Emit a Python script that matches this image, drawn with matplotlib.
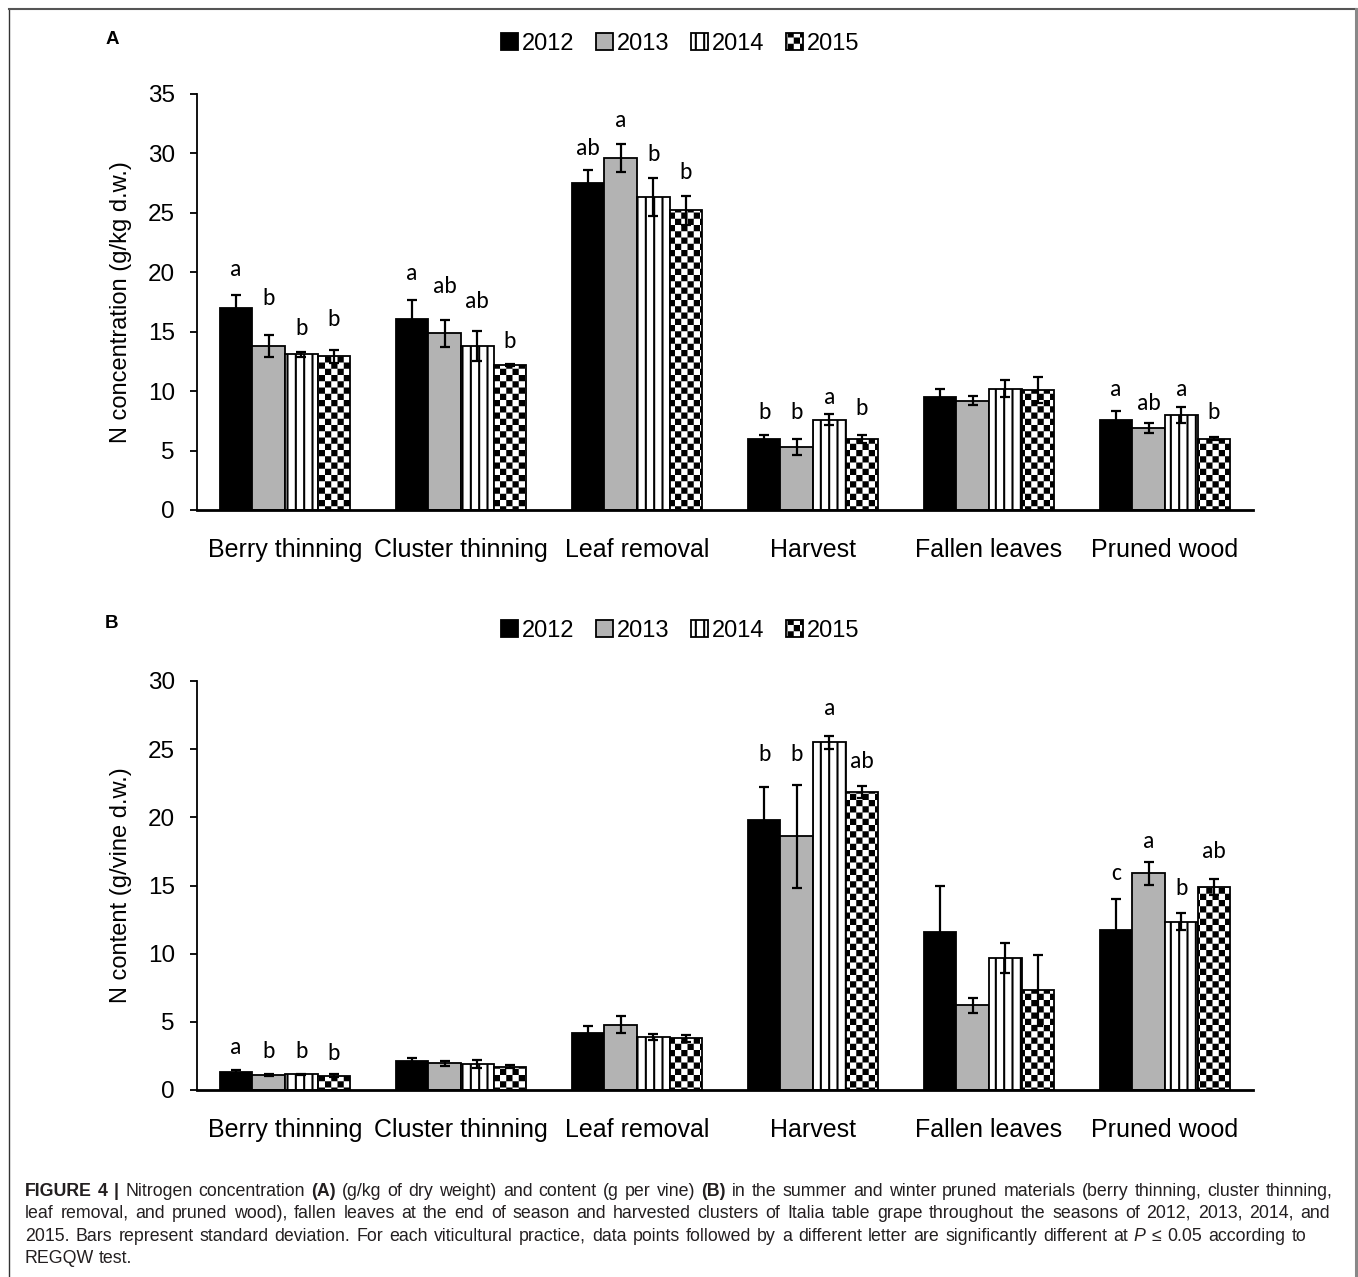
import warnings
warnings.filterwarnings("ignore")
import numpy as np
import matplotlib
matplotlib.use("Agg")
import matplotlib.pyplot as plt
import matplotlib.hatch as mhatch
from matplotlib.path import Path
from matplotlib.lines import Line2D
from matplotlib import font_manager

# ---------------- data ----------------
categories = ["Berry thinning", "Cluster thinning", "Leaf removal",
              "Harvest", "Fallen leaves", "Pruned wood"]
years = ["2012", "2013", "2014", "2015"]

# Panel A: N concentration (g/kg d.w.)
concA_2012 = [17.0, 16.1, 27.5, 6.0, 9.5, 7.6]
concA_2013 = [13.8, 14.85, 29.6, 5.3, 9.2, 6.9]
concA_2014 = [13.1, 13.8, 26.3, 7.6, 10.2, 8.0]
concA_2015 = [12.95, 12.2, 25.2, 6.0, 10.1, 6.0]
errA_2012 = [1.05, 1.6, 1.1, 0.3, 0.7, 0.7]
errA_2013 = [0.9, 1.1, 1.2, 0.7, 0.4, 0.4]
errA_2014 = [0.2, 1.3, 1.6, 0.45, 0.7, 0.7]
errA_2015 = [0.55, 0.05, 1.2, 0.35, 1.1, 0.15]
lettersA_2012 = ["a", "a", "ab", "b", "", "a"]
lettersA_2013 = ["b", "ab", "a", "b", "", "ab"]
lettersA_2014 = ["b", "ab", "b", "a", "", "a"]
lettersA_2015 = ["b", "b", "b", "b", "", "b"]
letterA_y_2012 = [20.2, 19.9, 30.4, 8.2, 0, 10.1]
letterA_y_2013 = [17.8, 18.8, 32.8, 8.2, 0, 9.0]
letterA_y_2014 = [15.3, 17.5, 29.9, 9.5, 0, 10.1]
letterA_y_2015 = [16.0, 14.2, 28.4, 8.5, 0, 8.2]

# Panel B: N content (g/vine d.w.)
contB_2012 = [1.3, 2.1, 4.2, 19.8, 11.6, 11.7]
contB_2013 = [1.1, 1.95, 4.8, 18.6, 6.2, 15.9]
contB_2014 = [1.15, 1.9, 3.9, 25.5, 9.7, 12.35]
contB_2015 = [1.05, 1.7, 3.8, 21.85, 7.3, 14.9]
errB_2012 = [0.15, 0.25, 0.5, 2.4, 3.4, 2.3]
errB_2013 = [0.1, 0.2, 0.6, 3.8, 0.55, 0.85]
errB_2014 = [0.05, 0.3, 0.2, 0.5, 1.1, 0.65]
errB_2015 = [0.1, 0.1, 0.25, 0.45, 2.6, 0.6]
lettersB_2012 = ["a", "", "", "b", "", "c"]
lettersB_2013 = ["b", "", "", "b", "", "a"]
lettersB_2014 = ["b", "", "", "a", "", "b"]
lettersB_2015 = ["b", "", "", "ab", "", "ab"]
letterB_y_2012 = [3.15, 0, 0, 24.6, 0, 15.9]
letterB_y_2013 = [2.86, 0, 0, 24.6, 0, 18.2]
letterB_y_2014 = [2.86, 0, 0, 28.0, 0, 14.8]
letterB_y_2015 = [2.7, 0, 0, 24.1, 0, 17.5]

ylabelA = "N concentration (g/kg d.w.)"
ylabelB = "N content (g/vine d.w.)"
yticksA = [0, 5, 10, 15, 20, 25, 30, 35]
yticksB = [0, 5, 10, 15, 20, 25, 30]

caption_lines = [
    "**FIGURE** **4** **|** Nitrogen concentration **(A)** (g/kg of dry weight) and content (g per vine) **(B)** in the summer and winter pruned materials (berry thinning, cluster thinning,",
    "leaf removal, and pruned wood), fallen leaves at the end of season and harvested clusters of Italia table grape throughout the seasons of 2012, 2013, 2014, and",
    "2015. Bars represent standard deviation. For each viticultural practice, data points followed by a different letter are significantly different at __P__ \u2264 0.05 according to",
    "REGQW test.",
]

# ---------------- style ----------------
W, H, DPI = 1358, 1277, 100
plt.rcParams["font.family"] = ["Liberation Sans", "DejaVu Sans"]
plt.rcParams["hatch.linewidth"] = 1.5
HATCH_LW = 1.5


def available(name):
    try:
        font_manager.findfont(font_manager.FontProperties(family=name),
                              fallback_to_default=False)
        return True
    except Exception:
        return False


cap_family = "Liberation Sans Narrow" if available("Liberation Sans Narrow") else "Liberation Sans"
letter_family = "Carlito" if available("Carlito") else "Lato"


# custom checkerboard hatch ('c')
class CheckerHatch(mhatch.HatchPatternBase):
    def __init__(self, hatch, density):
        self.n = 16 if "c" in hatch else 0
        self.num_vertices = (self.n * self.n // 2) * 5

    def set_vertices_and_codes(self, vertices, codes):
        n = self.n
        s = 1.0 / n
        inset = HATCH_LW / 144.0
        k = 0
        for i in range(n):
            for j in range(n):
                if (i + j) % 2 == 0:
                    x0, y0 = i * s + inset, j * s + inset
                    x1, y1 = (i + 1) * s - inset, (j + 1) * s - inset
                    vertices[k:k + 5] = [[x0, y0], [x1, y0], [x1, y1], [x0, y1], [x0, y0]]
                    codes[k:k + 5] = [Path.MOVETO, Path.LINETO, Path.LINETO,
                                      Path.LINETO, Path.CLOSEPOLY]
                    k += 5


mhatch._hatch_types.append(CheckerHatch)

fills = ["black", "#b3b3b3", "white", "white"]
hatches = [None, None, "||", "c"]

fig = plt.figure(figsize=(W / DPI, H / DPI), dpi=DPI)


def fx(px):
    return px / W


def fy(py):
    return 1 - py / H


def panel(rect, values, errors, letters, letter_y, ylabel, yticks, ymax, legend_y):
    ax = fig.add_axes(rect)
    x = np.arange(len(categories))
    w = 0.185
    handles = []
    for i in range(4):
        b = ax.bar(x + (i - 1.5) * w, values[i], w, color=fills[i],
                   edgecolor="black", linewidth=1.3, hatch=hatches[i],
                   zorder=2, label=years[i])
        handles.append(b)
        ax.errorbar(x + (i - 1.5) * w, values[i], yerr=errors[i], fmt="none",
                    ecolor="black", elinewidth=1.6, capsize=3.3, capthick=1.6,
                    zorder=3)
        for j in range(len(categories)):
            if letters[i][j]:
                ax.text(x[j] + (i - 1.5) * w, letter_y[i][j], letters[i][j],
                        ha="center", va="center", fontsize=17,
                        family=[letter_family, "DejaVu Sans"], zorder=4)
    ax.set_xlim(-0.5, len(categories) - 0.5)
    ax.set_ylim(0, ymax)
    ax.set_yticks(yticks)
    ax.set_xticks(x)
    ax.set_xticklabels(categories, fontsize=18)
    ax.tick_params(axis="x", length=0, pad=20.5)
    ax.tick_params(axis="y", length=5, width=1.3, pad=11, labelsize=17.5,
                   direction="out")
    for s in ["top", "right"]:
        ax.spines[s].set_visible(False)
    ax.spines["left"].set_linewidth(1.3)
    ax.spines["bottom"].set_linewidth(2.0)
    ax.spines["bottom"].set_zorder(5)
    ax.set_ylabel(ylabel, fontsize=17)
    ax.yaxis.set_label_coords(-0.062, 0.5)
    fig.legend(handles=handles, labels=years, loc="center",
               bbox_to_anchor=(fx(680), legend_y), ncol=4, frameon=False,
               fontsize=17, handlelength=0.75, handleheight=0.75,
               handletextpad=0.15, columnspacing=0.9, borderaxespad=0)
    return ax


rectA = [fx(197), fy(510), fx(1253) - fx(197), fy(94) - fy(510)]
rectB = [fx(197), fy(1090), fx(1253) - fx(197), fy(681) - fy(1090)]

panel(rectA, [concA_2012, concA_2013, concA_2014, concA_2015],
      [errA_2012, errA_2013, errA_2014, errA_2015],
      [lettersA_2012, lettersA_2013, lettersA_2014, lettersA_2015],
      [letterA_y_2012, letterA_y_2013, letterA_y_2014, letterA_y_2015],
      ylabelA, yticksA, 35, fy(44))
panel(rectB, [contB_2012, contB_2013, contB_2014, contB_2015],
      [errB_2012, errB_2013, errB_2014, errB_2015],
      [lettersB_2012, lettersB_2013, lettersB_2014, lettersB_2015],
      [letterB_y_2012, letterB_y_2013, letterB_y_2014, letterB_y_2015],
      ylabelB, yticksB, 30, fy(631))

fig.text(fx(112), fy(39), "A", fontsize=13.5, fontweight="bold", ha="center", va="center")
fig.text(fx(112), fy(623), "B", fontsize=13.5, fontweight="bold", ha="center", va="center")

# frame
fig.add_artist(Line2D([fx(8.5), fx(8.5)], [0, fy(9)], color="#333333", lw=1.0))
fig.add_artist(Line2D([fx(8.5), fx(1355.5)], [fy(9), fy(9)], color="#555555", lw=1.5))
fig.add_artist(Line2D([fx(1355.5), fx(1355.5)], [0, fy(9)], color="#888888", lw=2.2))

# caption with word-level layout
renderer = fig.canvas.get_renderer()
cap_size = 12.8
cap_color = "#231f20"
targets = [1333 - 25, 1330 - 25, 1306 - 25, None]
baselines = [1196, 1218, 1241, 1263]


def parse(line):
    out = []
    for wd in line.split(" "):
        if wd.startswith("**") and wd.endswith("**"):
            out.append((wd[2:-2], "bold", "normal"))
        elif wd.startswith("__") and wd.endswith("__"):
            out.append((wd[2:-2], "normal", "italic"))
        else:
            out.append((wd, "normal", "normal"))
    return out


def measure(s, weight, style):
    t = fig.text(0, 0, s, fontsize=cap_size, family=[cap_family, "DejaVu Sans"],
                 fontweight=weight, fontstyle=style)
    wdt = t.get_window_extent(renderer).width
    t.remove()
    return wdt


space = measure("x x", "normal", "normal") - measure("xx", "normal", "normal")
for line, target, base in zip(caption_lines, targets, baselines):
    words = parse(line)
    widths = [measure(*wd) for wd in words]
    if target is not None and len(words) > 1:
        gap = (target - sum(widths)) / (len(words) - 1)
    else:
        gap = space
    xpos = 25.0
    for (s, weight, style), wdt in zip(words, widths):
        fig.text(fx(xpos), fy(base), s, fontsize=cap_size,
                 family=[cap_family, "DejaVu Sans"], fontweight=weight,
                 fontstyle=style, color=cap_color, ha="left", va="baseline")
        xpos += wdt + gap

fig.savefig("out.png", dpi=DPI)
